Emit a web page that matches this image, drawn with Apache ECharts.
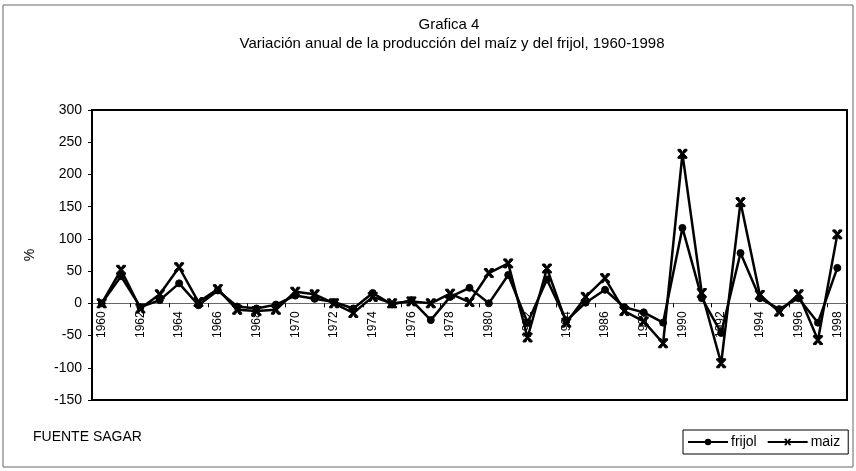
<!DOCTYPE html>
<html>
<head>
<meta charset="utf-8">
<script src="https://cdn.jsdelivr.net/npm/echarts@6/dist/echarts.min.js"></script>
<style>
html,body{margin:0;padding:0;background:#fff;}
#c{width:856px;height:471px;}
</style>
</head>
<body>
<div id="c"></div>
<script>
var years = ["1960","1961","1962","1963","1964","1965","1966","1967","1968","1969",
  "1970","1971","1972","1973","1974","1975","1976","1977","1978","1979",
  "1980","1981","1982","1983","1984","1985","1986","1987","1988","1989",
  "1990","1991","1992","1993","1994","1995","1996","1997","1998"];
var frijol = [0,42,-6,5,31,-3,20,-5,-8,-2,
  12,7,2,-8,16,-2,5,-26,10,24,
  0,44,-30,37,-27,1,21,-6,-14,-30,
  117,8,-46,78,8,-9,8,-30,55];
var maiz = [0,52,-8,14,56,2,22,-10,-12,-10,
  18,14,0,-15,10,0,3,0,15,2,
  47,62,-53,54,-30,10,39,-12,-28,-62,
  232,16,-93,157,13,-13,14,-57,107];
var yMin = -150, yMax = 300, yStep = 50;

var FONT = '"Liberation Sans", Arial, sans-serif';
var xMark = 'path://M0,0 L3,0 L5,3.5 L7,0 L10,0 L10,1.5 L6.5,5 L10,8.5 L10,10 L7,10 L5,6.5 L3,10 L0,10 L0,8.5 L3.5,5 L0,1.5 Z';

var gridTop = 110, gridBottom = 71, H = 471;
var plotH = H - gridTop - gridBottom;
// move the category axis up so it sits on the zero line
var zeroOffset = -plotH * (0 - yMin) / (yMax - yMin);

var chart = echarts.init(document.getElementById('c'), null, {renderer:'canvas'});
chart.setOption({
  animation: false,
  backgroundColor: '#fff',
  textStyle: {fontFamily: FONT, color: '#000'},
  graphic: [
    {type:'rect', z:-1, shape:{x:3,y:5,width:850,height:462}, style:{fill:'none', stroke:'#666', lineWidth:1}},
    {type:'text', x:449, y:25, style:{text:'Grafica 4', font:'15px ' + FONT, fill:'#000', textAlign:'center', textVerticalAlign:'middle'}},
    {type:'text', x:452, y:44, style:{text:'Variación anual de la producción del maíz y del frijol, 1960-1998', font:'15px ' + FONT, fill:'#000', textAlign:'center', textVerticalAlign:'middle'}},
    {type:'text', x:33, y:437, style:{text:'FUENTE SAGAR', font:'14px ' + FONT, fill:'#000', textAlign:'left', textVerticalAlign:'middle'}}
  ],
  legend: {
    left: 683, top: 430,
    orient: 'horizontal',
    borderColor: '#000', borderWidth: 1,
    padding: [5, 8, 5, 4],
    itemWidth: 40, itemHeight: 8, itemGap: 10,
    textStyle: {fontFamily: FONT, fontSize: 14, color: '#000', padding:[0,0,0,-2]},
    data: ['frijol', 'maiz']
  },
  grid: {
    left: 92, right: 9, top: gridTop, bottom: gridBottom,
    show: true, borderColor: '#000', borderWidth: 2, backgroundColor: 'transparent'
  },
  xAxis: {
    type: 'category',
    data: years,
    boundaryGap: true,
    offset: zeroOffset,
    axisLine: {onZero: false, lineStyle: {color: '#666', width: 1}},
    axisTick: {show: true, length: 4, lineStyle: {color: '#000'}},
    axisLabel: {rotate: 90, interval: 1, margin: 8, fontFamily: FONT, fontSize: 12, color: '#000'},
    splitLine: {show: false}
  },
  yAxis: {
    type: 'value',
    min: yMin, max: yMax, interval: yStep,
    name: '%', nameLocation: 'middle', nameGap: 55, nameRotate: 90,
    nameTextStyle: {fontFamily: FONT, fontSize: 14, color: '#000'},
    axisLine: {show: true, lineStyle: {color: '#000', width: 2}},
    axisTick: {show: true, length: 4, lineStyle: {color: '#000'}},
    axisLabel: {margin: 10, fontFamily: FONT, fontSize: 14, color: '#000'},
    splitLine: {show: false}
  },
  series: [
    {
      name: 'frijol', type: 'line', data: frijol,
      symbol: 'circle', symbolSize: 7, showAllSymbol: true,
      lineStyle: {color: '#000', width: 2.5},
      itemStyle: {color: '#000', borderColor: '#000'},
      z: 3
    },
    {
      name: 'maiz', type: 'line', data: maiz,
      symbol: xMark, symbolSize: 9, showAllSymbol: true,
      lineStyle: {color: '#000', width: 2.5},
      itemStyle: {color: '#000', borderColor: '#000'},
      z: 2
    }
  ]
});
</script>
</body>
</html>
